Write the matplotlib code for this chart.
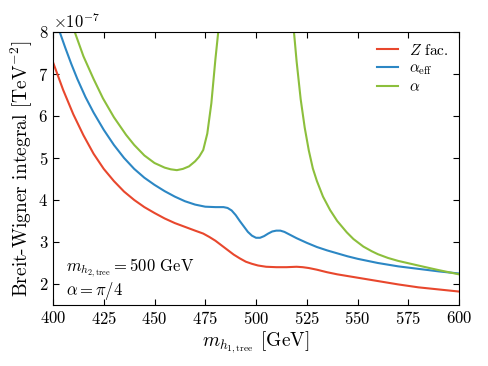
import matplotlib
matplotlib.use("Agg")
import matplotlib.pyplot as plt
import numpy as np

plt.rcParams['font.family'] = 'serif'
plt.rcParams['font.serif'] = ['cmr10', 'DejaVu Serif']
plt.rcParams['mathtext.fontset'] = 'cm'
plt.rcParams['axes.unicode_minus'] = False
plt.rcParams['axes.formatter.use_mathtext'] = True

# Z factor curve (units 1e-7 TeV^-2)
x_z = [400, 405, 410, 415, 420, 425, 430, 435, 440, 445, 450, 455, 460, 465, 470, 474,
       477, 480, 483, 486, 489, 492, 495, 498, 501, 505, 510, 515, 520, 523, 526, 530,
       535, 540, 545, 550, 560, 570, 580, 590, 600]
y_z = [7.28, 6.62, 6.04, 5.54, 5.10, 4.74, 4.45, 4.20, 4.00, 3.83, 3.69, 3.56, 3.45, 3.36,
       3.27, 3.20, 3.12, 3.03, 2.92, 2.81, 2.70, 2.61, 2.53, 2.48, 2.44, 2.41, 2.40, 2.40,
       2.41, 2.40, 2.38, 2.34, 2.28, 2.23, 2.19, 2.15, 2.07, 1.99, 1.92, 1.87, 1.82]

# alpha_eff curve
x_eff = [400, 403.3, 406, 409, 412, 416, 420, 425, 430, 435, 440, 445, 450, 455, 460, 465,
         470, 475, 480, 484, 486, 488, 490, 492, 494, 496, 498, 500, 502, 504, 506, 508,
         510, 512, 514, 516, 518, 520, 525, 530, 535, 540, 545, 550, 560, 570, 580, 590, 600]
y_eff = [8.48, 8.00, 7.63, 7.24, 6.88, 6.45, 6.08, 5.67, 5.31, 5.00, 4.74, 4.53, 4.36, 4.21,
         4.08, 3.97, 3.89, 3.84, 3.83, 3.83, 3.81, 3.75, 3.64, 3.50, 3.37, 3.24, 3.15, 3.10,
         3.10, 3.14, 3.20, 3.25, 3.27, 3.27, 3.24, 3.19, 3.14, 3.09, 2.98, 2.88, 2.80, 2.73,
         2.66, 2.60, 2.50, 2.42, 2.36, 2.30, 2.25]

# alpha curve
x_a = [400, 403, 406, 410.7, 415, 420, 424.6, 430, 436, 440, 445, 450, 455, 458, 461, 464,
       467, 470, 472, 474, 476, 478, 480, 481.4, 483, 486, 490, 500, 510, 514, 517, 518.7,
       520, 522, 524, 526, 528, 530, 533, 536.5, 540, 544.7, 548, 552.9, 557, 560, 565,
       570, 580.8, 590, 600]
y_a = [9.70, 9.10, 8.60, 8.00, 7.42, 6.88, 6.42, 5.97, 5.55, 5.31, 5.06, 4.88, 4.77, 4.73,
       4.71, 4.74, 4.80, 4.92, 5.03, 5.19, 5.58, 6.30, 7.35, 8.00, 9.20, 11.5, 15.0, 25.0,
       15.0, 11.5, 9.00, 8.00, 7.30, 6.40, 5.72, 5.18, 4.75, 4.45, 4.08, 3.76, 3.50, 3.23,
       3.07, 2.89, 2.78, 2.71, 2.62, 2.55, 2.43, 2.33, 2.23]

scale = 1e-7
fig = plt.figure(figsize=(4.88, 3.66), dpi=100)
ax = fig.add_axes([0.1086, 0.1667, 0.832, 0.746])

ax.plot(x_z, np.array(y_z) * scale, color='#E8472D', lw=1.5, label=r'$Z$ fac.')
ax.plot(x_eff, np.array(y_eff) * scale, color='#2C87C4', lw=1.5, label=r'$\alpha_{\rm eff}$')
ax.plot(x_a, np.array(y_a) * scale, color='#8CBF3C', lw=1.5, label=r'$\alpha$')

ax.set_xlim(400, 600)
ax.set_ylim(1.5e-7, 8e-7)
ax.set_xticks([400, 425, 450, 475, 500, 525, 550, 575, 600])
ax.set_yticks(np.arange(2, 9) * scale)
ax.tick_params(direction='in', top=True, right=True, labelsize=12, length=4)
ax.yaxis.get_offset_text().set_fontsize(12)

ax.set_xlabel(r'$m_{h_{1,\rm tree}}$ [GeV]', fontsize=14, labelpad=2)
ax.set_ylabel(r'Breit-Wigner integral [TeV$^{-2}$]', fontsize=14)
ax.yaxis.set_label_coords(-0.045, 0.5)

ax.text(0.032, 0.136, r'$m_{h_{2,\rm tree}} = 500$ GeV', transform=ax.transAxes,
        fontsize=12, va='center')
ax.text(0.032, 0.052, r'$\alpha = \pi/4$', transform=ax.transAxes, fontsize=12, va='center')

ax.legend(loc='upper right', frameon=False, fontsize=11, handlelength=1.4,
          handletextpad=0.7, labelspacing=0.25, borderaxespad=0.3)

fig.savefig('out.png', dpi=100)
